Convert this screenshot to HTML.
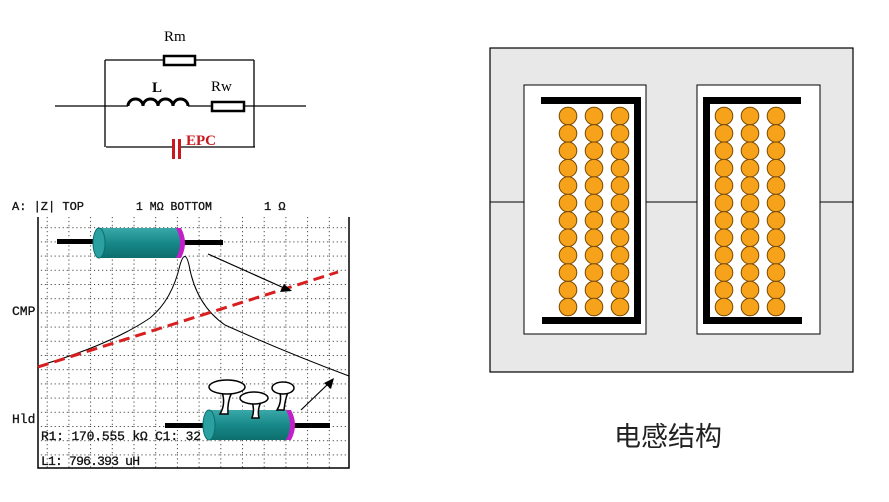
<!DOCTYPE html>
<html><head><meta charset="utf-8"><style>
html,body{margin:0;padding:0;background:#fff;}
svg{display:block}
</style></head><body>
<svg width="889" height="502" viewBox="0 0 889 502" xmlns="http://www.w3.org/2000/svg">
<defs>
<pattern id="dg" width="21.7" height="14.2" patternUnits="userSpaceOnUse" x="25" y="213">
<g fill="#222">
<rect x="0" y="0" width="1" height="1"/><rect x="0" y="4" width="1" height="1"/><rect x="0" y="8" width="1" height="1"/><rect x="0" y="12" width="1" height="1"/>
<rect x="4" y="0" width="1" height="1"/><rect x="8" y="0" width="1" height="1"/><rect x="12" y="0" width="1" height="1"/><rect x="16" y="0" width="1" height="1"/><rect x="20" y="0" width="1" height="1"/>
</g>
</pattern>
<linearGradient id="cyl" x1="0" y1="0" x2="0" y2="1">
<stop offset="0" stop-color="#3aa8a8"/><stop offset="0.5" stop-color="#178888"/><stop offset="1" stop-color="#0e6e6e"/>
</linearGradient>
</defs>

<!-- circuit -->
<g stroke="#000" stroke-width="1.3" fill="none">
<line x1="105" y1="60" x2="254" y2="60"/>
<line x1="105" y1="60" x2="105" y2="147"/>
<line x1="254" y1="60" x2="254" y2="147"/>
<line x1="106" y1="147" x2="172" y2="147"/>
<line x1="181" y1="147" x2="255" y2="147"/>
<line x1="55" y1="106" x2="128" y2="106"/>
<line x1="188" y1="106" x2="211" y2="106"/>
<line x1="245" y1="106" x2="306" y2="106"/>
</g>
<rect x="164" y="56" width="31" height="9" fill="#fff" stroke="#000" stroke-width="2.5"/>
<rect x="212" y="102" width="32" height="9" fill="#fff" stroke="#000" stroke-width="2.5"/>
<path d="M128,106 a7.5,7 0 0 1 15,0 a7.5,7 0 0 1 15,0 a7.5,7 0 0 1 15,0 a7.5,7 0 0 1 15,0" fill="none" stroke="#000" stroke-width="3"/>
<rect x="172" y="139" width="3" height="20" fill="#c8191e"/>
<rect x="178" y="139" width="3" height="20" fill="#c8191e"/>
<text x="164" y="41" font-family="Liberation Serif, serif" font-size="15">Rm</text>
<text x="152" y="92" font-family="Liberation Serif, serif" font-size="15" font-weight="bold">L</text>
<text x="211" y="91" font-family="Liberation Serif, serif" font-size="15">Rw</text>
<text x="186" y="145" font-family="Liberation Serif, serif" font-size="15" font-weight="bold" fill="#c8191e">EPC</text>

<!-- graph -->
<rect x="38" y="217" width="311" height="251" fill="url(#dg)"/>
<path d="M38,217 V468 H349 V217" fill="none" stroke="#000" stroke-width="1.5"/>
<g font-family="Liberation Mono, monospace" font-size="13" fill="#111" stroke="#111" stroke-width="0.3">
<text x="12" y="210" font-size="12">A: |Z|  TOP</text>
<text x="136" y="210" font-size="11.5">1 MΩ BOTTOM</text>
<text x="264" y="210" font-size="12">1 Ω</text>
<text x="12" y="315">CMP</text>
<text x="12" y="423">Hld</text>
<text x="41" y="440" textLength="160">R1:  170.555 kΩ  C1:   32</text>
<text x="41" y="465" textLength="99">L1:  796.393 uH</text>
</g>
<path d="M150,318 Q172,300 180,265 Q185,248 189,265 Q196,305 225,325 Q285,352 349,376" fill="none" stroke="#000" stroke-width="1"/>
<path d="M38,366 Q110,345 150,318" fill="none" stroke="#000" stroke-width="1"/>
<line x1="38" y1="367" x2="338" y2="272" stroke="#d81e1e" stroke-width="3" stroke-dasharray="11,6"/>
<line x1="208" y1="254" x2="284" y2="288" stroke="#000" stroke-width="1.2"/>
<polygon points="292,291 280,292 284,284" fill="#000"/>
<line x1="301" y1="410" x2="328" y2="384" stroke="#000" stroke-width="1.2"/>
<polygon points="334,378 331,389 324,383" fill="#000"/>

<!-- top resistor -->
<rect x="57" y="239" width="46" height="5" fill="#000"/>
<rect x="182" y="240" width="41" height="5" fill="#000"/>
<rect x="97" y="228" width="84" height="30" fill="url(#cyl)"/>
<path d="M176,228 q8,15 0,30 h5 q8,-15 0,-30z" fill="#c21fc8"/>
<ellipse cx="99" cy="243" rx="6" ry="15" fill="#2aa0a0" stroke="#0e6e6e"/>
<!-- bottom resistor -->
<rect x="165" y="423" width="45" height="5" fill="#000"/>
<rect x="292" y="423" width="38" height="5" fill="#000"/>
<rect x="207" y="410" width="83" height="30" fill="url(#cyl)"/>
<path d="M286,410 q8,15 0,30 h5 q8,-15 0,-30z" fill="#c21fc8"/>
<ellipse cx="209" cy="425" rx="6" ry="15" fill="#2aa0a0" stroke="#0e6e6e"/>
<!-- mushrooms -->
<g stroke="#000" stroke-width="1.5" fill="#fff">
<path d="M222,392 q4,12 -2,22 h8 q-1,-12 4,-22z"/>
<ellipse cx="227" cy="387" rx="18" ry="7"/>
<path d="M252,402 q3,8 0,16 h7 q-2,-8 2,-16z"/>
<ellipse cx="254" cy="398" rx="14" ry="6"/>
<path d="M280,392 q2,10 -3,18 h7 q1,-10 4,-18z"/>
<ellipse cx="283" cy="388" rx="11" ry="6"/>
</g>

<!-- inductor structure -->
<rect x="490" y="48" width="363" height="324" fill="#e8e8e8" stroke="#000" stroke-width="1.2"/>
<line x1="490" y1="202" x2="853" y2="202" stroke="#000" stroke-width="1"/>
<rect x="524" y="85" width="122" height="249" fill="#fff" stroke="#000" stroke-width="1"/>
<rect x="697" y="85" width="123" height="249" fill="#fff" stroke="#000" stroke-width="1"/>
<g fill="#000">
<rect x="541" y="97" width="99" height="7"/><rect x="634" y="97" width="7" height="227"/><rect x="542" y="317" width="99" height="7"/>
<rect x="703" y="97" width="98" height="7"/><rect x="703" y="97" width="7" height="227"/><rect x="703" y="317" width="99" height="7"/>
</g>
<g fill="#f7a21b" stroke="#7a4a00" stroke-width="1">
<g id="col">
<circle cx="568" cy="116" r="8.8"/><circle cx="568" cy="133.4" r="8.8"/><circle cx="568" cy="150.8" r="8.8"/><circle cx="568" cy="168.2" r="8.8"/><circle cx="568" cy="185.6" r="8.8"/><circle cx="568" cy="203" r="8.8"/><circle cx="568" cy="220.4" r="8.8"/><circle cx="568" cy="237.8" r="8.8"/><circle cx="568" cy="255.2" r="8.8"/><circle cx="568" cy="272.6" r="8.8"/><circle cx="568" cy="290" r="8.8"/><circle cx="568" cy="307" r="8.8"/>
</g>
<use href="#col" x="26"/><use href="#col" x="52"/>
<use href="#col" x="156"/><use href="#col" x="182"/><use href="#col" x="208"/>
</g>
<text x="614" y="446" font-family="Liberation Sans, Noto Sans CJK SC, sans-serif" font-size="27" fill="#222">电感结构</text>
</svg>
</body></html>
